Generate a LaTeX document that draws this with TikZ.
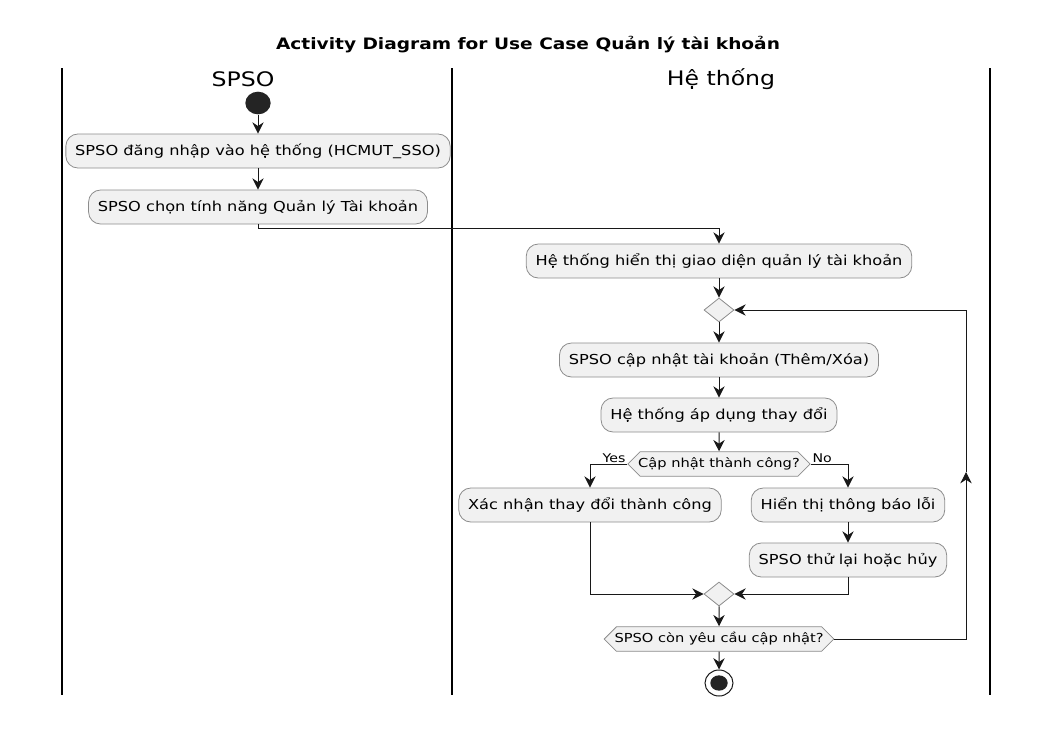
\documentclass[tikz,border=0pt]{standalone}
\usepackage{fontspec}
\setmainfont[FakeStretch=1.18]{DejaVu Sans}
\usetikzlibrary{shapes.geometric,shapes.symbols,arrows.meta,positioning,calc}
\definecolor{actfill}{HTML}{F1F1F1}
\definecolor{actline}{HTML}{181818}
\definecolor{actgray}{HTML}{8C8C8C}

\tikzset{
  act/.style={draw=actgray, line width=0.6pt, fill=actfill, rounded corners=9pt,
    minimum height=25.5pt, inner xsep=7pt, font=\fontsize{10.3}{12}\selectfont},
  choice/.style={draw=actgray, line width=0.6pt, fill=actfill, signal, signal to=west and east,
    minimum height=18.5pt, inner xsep=-1.5pt, font=\fontsize{9.3}{11}\selectfont},
  merger/.style={draw=actgray, line width=0.6pt, fill=actfill, diamond, inner sep=0pt,
    minimum width=22.5pt, minimum height=18pt},
  flow/.style={draw=actline, line width=0.75pt, -{Stealth[length=8.5pt,width=8.5pt,inset=2.8pt]}},
  lane/.style={draw=black, line width=1.2pt},
  guard/.style={font=\fontsize{9}{10}\selectfont, inner sep=1pt}
}

\begin{document}
\begin{tikzpicture}[x=0.75pt, y=-0.75pt]
    \useasboundingbox (0,0) rectangle (1053,729);

    % Title and swimlanes
    \node (title) at (528,45) {\fontsize{11.8}{14}\selectfont\bfseries Activity Diagram for Use Case Quản lý tài khoản};
    \draw[lane] (62,68) -- (62,695);
    \draw[lane] (452,68) -- (452,695);
    \draw[lane] (990,68) -- (990,695);
    \node (laneA) at (243,79) {\fontsize{15}{17}\selectfont SPSO};
    \node (laneB) at (721,79) {\fontsize{15}{17}\selectfont Hệ thống};

    % SPSO lane
    \node[ellipse, fill=actline!95, minimum width=19pt, minimum height=17pt, inner sep=0pt] (start) at (258,103) {};
    \node[act] (login) at (258,151) {SPSO đăng nhập vào hệ thống (HCMUT\_SSO)};
    \node[act] (choose) at (258,207) {SPSO chọn tính năng Quản lý Tài khoản};

    % System lane
    \node[act] (show) at (719,261) {Hệ thống hiển thị giao diện quản lý tài khoản};
    \node[merger] (loop) at (719,310) {};
    \node[act] (update) at (719,360) {SPSO cập nhật tài khoản (Thêm/Xóa)};
    \node[act] (apply) at (719,415) {Hệ thống áp dụng thay đổi};
    \node[choice] (check) at (719,464) {Cập nhật thành công?};
    \node[act] (ok) at (590,505) {Xác nhận thay đổi thành công};
    \node[act] (err) at (848,505) {Hiển thị thông báo lỗi};
    \node[act] (retry) at (848,560) {SPSO thử lại hoặc hủy};
    \node[merger] (join) at (719,594) {};
    \node[choice] (again) at (719,639) {SPSO còn yêu cầu cập nhật?};
    \node[ellipse, draw=actline, line width=0.75pt, fill=white, minimum width=21pt, minimum height=19.5pt, inner sep=0pt] (stop) at (719,683) {};
    \node[ellipse, fill=actline!95, minimum width=13pt, minimum height=11.5pt, inner sep=0pt] at (stop) {};

    % Connectors
    \draw[flow] (start) -- (login);
    \draw[flow] (login) -- (choose);
    \draw[flow] (choose.south) -- ++(0,4) -| (show.north);
    \draw[flow] (show) -- (loop);
    \draw[flow] (loop) -- (update);
    \draw[flow] (update) -- (apply);
    \draw[flow] (apply) -- (check);
    \draw[flow] (check.west) node[guard, above left] {Yes} -| (ok.north);
    \draw[flow] (check.east) node[guard, above right] {No} -| (err.north);
    \draw[flow] (err) -- (retry);
    \draw[flow] (ok.south) |- (join.west);
    \draw[flow] (retry.south) |- (join.east);
    \draw[flow] (join) -- (again);
    \draw[flow] (again) -- (stop);
    \coordinate (back) at (966,472);
    \draw[flow] (again.east) -| (back);
    \draw[flow] (back) |- (loop.east);
\end{tikzpicture}
\end{document}
